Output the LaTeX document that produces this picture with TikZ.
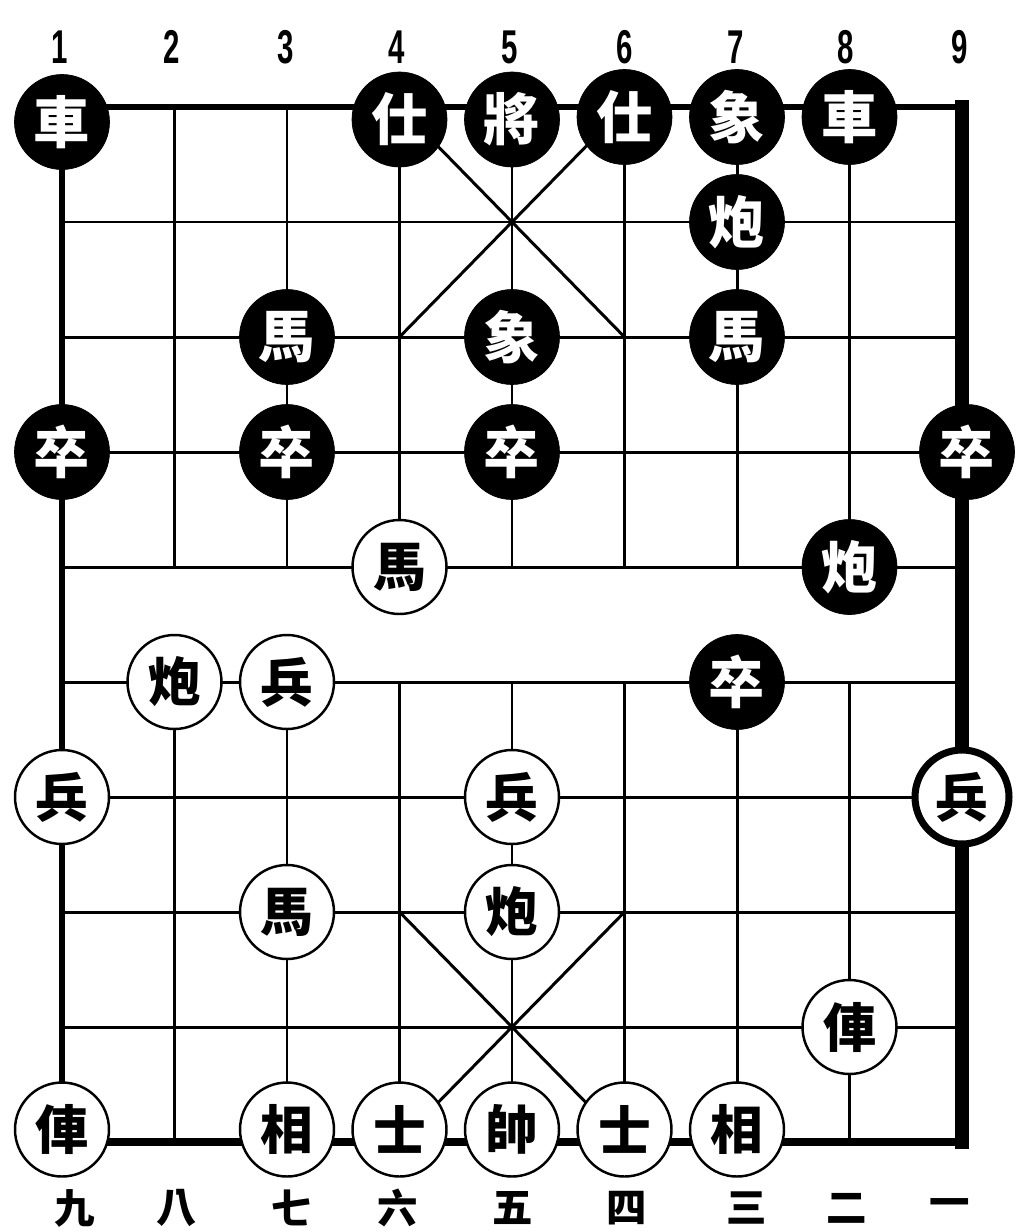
\documentclass[tikz,border=0pt]{standalone}
\usepackage{fontspec}
\newfontfamily\cjk{Noto Sans CJK TC}
\newfontfamily\numfont{Liberation Sans}[FakeStretch=0.62]
\tikzset{
  gridline/.style={line width=1.7pt,line cap=rect},
  edgeline/.style={line width=3.6pt,line cap=rect},
  heavyline/.style={line width=5pt,line cap=rect},
  blk/.style={circle,fill=black,draw=black,minimum size=1.9cm,inner sep=0pt,
    text=white,font=\cjk\bfseries\fontsize{32}{32}\selectfont},
  red/.style={circle,fill=white,draw=black,line width=1.4pt,minimum size=1.88cm,inner sep=0pt,
    text=black,font=\cjk\bfseries\fontsize{30}{30}\selectfont},
  toplabel/.style={font=\numfont\bfseries\fontsize{27}{27}\selectfont,inner sep=0pt},
  botlabel/.style={font=\cjk\bfseries\fontsize{23}{23}\selectfont,inner sep=0pt},
}
\begin{document}
\begin{tikzpicture}[x=0.02cm,y=-0.02cm]
\useasboundingbox[fill=white] (0,0) rectangle (1031,1231);
% grid points
\foreach \i in {1,...,9}{
  \foreach \j in {0,...,9}{
    \coordinate (p\i\j) at ({62+112.5*(\i-1)},{107+115*\j});
  }
}
% horizontal lines
\foreach \j in {1,...,8}{ \draw[gridline] (p1\j) -- (p9\j); }
\draw[edgeline] (p10) -- (p90);
\draw[heavyline] (p19) -- (p99);
% vertical inner lines (broken at the river)
\foreach \i in {2,...,8}{
  \draw[gridline] (p\i0) -- (p\i4);
  \draw[gridline] (p\i5) -- (p\i9);
}
\draw[edgeline] (p10) -- (p19);
\draw[line width=8pt,line cap=rect] (p90) -- (p99);
% palaces
\draw[gridline] (p40) -- (p62);
\draw[gridline] (p60) -- (p42);
\draw[gridline] (p47) -- (p69);
\draw[gridline] (p67) -- (p49);

% file numbers
\node[toplabel] (n1) at (60,47) {1};
\node[toplabel] (n2) at (172,47) {2};
\node[toplabel] (n3) at (286,47) {3};
\node[toplabel] (n4) at (397,47) {4};
\node[toplabel] (n5) at (510,47) {5};
\node[toplabel] (n6) at (625,47) {6};
\node[toplabel] (n7) at (736,47) {7};
\node[toplabel] (n8) at (846,47) {8};
\node[toplabel] (n9) at (960,47) {9};
\node[botlabel] (c9) at (75,1208) {九};
\node[botlabel] (c8) at (177,1208) {八};
\node[botlabel] (c7) at (292,1208) {七};
\node[botlabel] (c6) at (398,1208) {六};
\node[botlabel] (c5) at (513,1208) {五};
\node[botlabel] (c4) at (627,1208) {四};
\node[botlabel] (c3) at (747,1208) {三};
\node[botlabel] (c2) at (847,1208) {二};
\node[botlabel] (c1) at (950,1208) {一};

% black pieces
\node[blk] (bR1) at ([yshift=-0.3cm]p10) {車};
\node[blk] (bA1) at ([yshift=-0.25cm]p40) {仕};
\node[blk] (bK)  at ([yshift=-0.25cm]p50) {將};
\node[blk] (bA2) at ([yshift=-0.2cm]p60) {仕};
\node[blk] (bE1) at ([yshift=-0.2cm]p70) {象};
\node[blk] (bR2) at ([yshift=-0.2cm]p80) {車};
\node[blk] (bC1) at (p71) {炮};
\node[blk] (bH1) at (p32) {馬};
\node[blk] (bE2) at (p52) {象};
\node[blk] (bH2) at (p72) {馬};
\node[blk] (bP1) at (p13) {卒};
\node[blk] (bP2) at (p33) {卒};
\node[blk] (bP3) at (p53) {卒};
\node[blk] (bP4) at ([xshift=0.1cm]p93) {卒};
\node[blk] (bC2) at (p84) {炮};
\node[blk] (bP5) at (p75) {卒};

% red pieces
\node[red] (rH1) at (p44) {馬};
\node[red] (rC1) at (p25) {炮};
\node[red] (rP1) at (p35) {兵};
\node[red] (rP2) at (p16) {兵};
\node[red] (rP3) at (p56) {兵};
\node[red,line width=4pt] (rP4) at (p96) {兵};
\node[red] (rH2) at (p37) {馬};
\node[red] (rC2) at (p57) {炮};
\node[red] (rR1) at (p88) {俥};
\node[red] (rR2) at ([yshift=0.25cm]p19) {俥};
\node[red] (rE1) at ([yshift=0.25cm]p39) {相};
\node[red] (rA1) at ([yshift=0.25cm]p49) {士};
\node[red] (rK)  at ([yshift=0.25cm]p59) {帥};
\node[red] (rA2) at ([yshift=0.25cm]p69) {士};
\node[red] (rE2) at ([yshift=0.25cm]p79) {相};
\end{tikzpicture}
\end{document}
